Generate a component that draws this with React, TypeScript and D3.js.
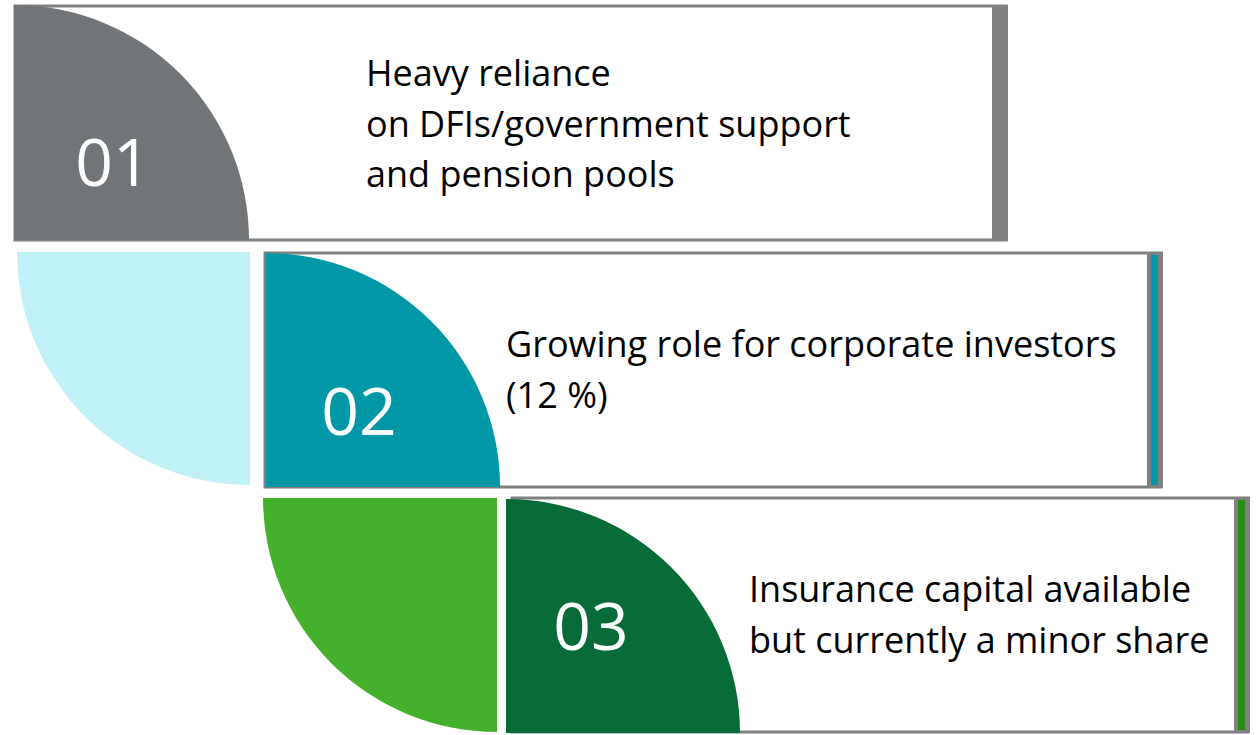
import * as d3 from "d3";

// content
const numbers = ["01", "02", "03"];
const textLines = [
  ["Heavy reliance", "on DFIs/government support", "and pension pools"],
  ["Growing role for corporate investors", "(12 %)"],
  ["Insurance capital available", "but currently a minor share"],
];
const mainColors = ["#727577", "#0097a7", "#076b37"];
const sideColors = [null, "#bff1f7", "#44b02c"];
const barColors = ["#808080", "#0097a7", "#2b8c12"];

// layout per row
const boxes = [
  { x0: 15, x1: 1006, y0: 6, y1: 240, textX: 366, textY: 86, numX: 113, numY: 186 },
  { x0: 265, x1: 1161, y0: 253, y1: 487, textX: 506, textY: 357, numX: 359, numY: 435 },
  { x0: 512, x1: 1248, y0: 498, y1: 732, textX: 749, textY: 602, numX: 591, numY: 650 },
];
const mainCircle = [
  { cx: 14, cy: 240, r: 235 },
  { cx: 266, cy: 487, r: 234 },
  { cx: 506, cy: 733, r: 234 },
];
const sideCircle = [null, { cx: 250, cy: 252, r: 233 }, { cx: 497, cy: 498, r: 234 }];

const font = "'Open Sans', 'Noto Sans', sans-serif";

export default function App() {
  const W = 1256;
  const H = 735;
  const topRight = (r: number) => d3.arc()({ innerRadius: 0, outerRadius: r, startAngle: 0, endAngle: Math.PI / 2 }) || "";
  const bottomLeft = (r: number) =>
    d3.arc()({ innerRadius: 0, outerRadius: r, startAngle: Math.PI, endAngle: (3 * Math.PI) / 2 }) || "";

  return (
    <svg width={W} height={H} style={{ position: "absolute", left: 0, top: 0, background: "#fff" }}>
      {boxes.map((b, i) => {
        const mc = mainCircle[i];
        const sc = sideCircle[i];
        return (
          <g key={i}>
            {sc && (
              <path d={bottomLeft(sc.r)} transform={`translate(${sc.cx},${sc.cy})`} fill={sideColors[i] as string} />
            )}
            <rect x={b.x0} y={b.y0} width={b.x1 - b.x0} height={b.y1 - b.y0} fill="#fff" stroke="#808080" strokeWidth={3} />
            <path d={topRight(mc.r)} transform={`translate(${mc.cx},${mc.cy})`} fill={mainColors[i]} />
            {/* right edge bar */}
            <rect x={b.x1 - 14} y={b.y0 - 1} width={16} height={b.y1 - b.y0 + 2} fill="#808080" />
            {i > 0 && (
              <rect x={b.x1 - 10} y={b.y0 + 2} width={7} height={b.y1 - b.y0 - 4} fill={barColors[i]} />
            )}
            <text x={b.numX} y={b.numY} textAnchor="middle" fill="#fff" fontFamily={font} fontSize={66}>
              {numbers[i]}
            </text>
            {textLines[i].map((t, j) => (
              <text key={j} x={b.textX} y={b.textY + j * 50.5} fill="#000" fontFamily={font} fontSize={36}>
                {t}
              </text>
            ))}
          </g>
        );
      })}
    </svg>
  );
}
